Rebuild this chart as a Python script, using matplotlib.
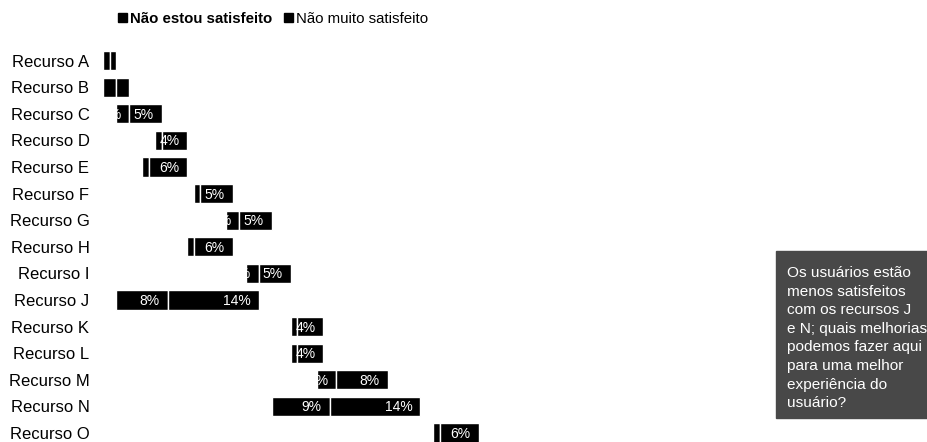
"""Recreate the 'satisfacao por recurso' offset stacked bar chart."""

import matplotlib

matplotlib.use("Agg")
import matplotlib.pyplot as plt
import numpy as np
from matplotlib.patches import Patch, Rectangle
from matplotlib.transforms import offset_copy

plt.rcParams["font.family"] = ["Liberation Sans", "DejaVu Sans"]

recursos = [f"Recurso {c}" for c in "ABCDEFGHIJKLMNO"]
# hidden leading share (%) that pushes each bar to the right
base_oculta = [0, 0, 2, 8, 6, 14, 19, 13, 22, 2, 29, 29, 33, 26, 51]
nao_estou = [1, 2, 2, 1, 1, 1, 2, 1, 2, 8, 1, 1, 3, 9, 1]
nao_muito = [1, 2, 5, 4, 6, 5, 5, 6, 5, 14, 4, 4, 8, 14, 6]
mostrar_rotulo = [False, False] + [True] * 13
series_nomes = ["Não estou satisfeito", "Não muito satisfeito"]

nota = ("Os usuários estão\nmenos satisfeitos\ncom os recursos J\n"
        "e N; quais melhorias\npodemos fazer aqui\npara uma melhor\n"
        "experiência do\nusuário?")

W, H = 927, 442
fig = plt.figure(figsize=(W / 100, H / 100), dpi=100)
ax = fig.add_axes([103.3 / W, -4.3 / H, 647 / W, 399 / H])

y = np.arange(len(recursos))
left = np.array(base_oculta, dtype=float)
for valores in (nao_estou, nao_muito):
    valores = np.array(valores, dtype=float)
    bars = ax.barh(y, valores, left=left, height=0.72, color="black",
                   edgecolor="white", linewidth=1)
    for bar, v, show in zip(bars, valores, mostrar_rotulo):
        if not show:
            continue
        x_end = bar.get_x() + bar.get_width()
        tr = offset_copy(ax.transData, fig=fig, x=-8, y=-1, units="dots")
        t = ax.text(x_end, bar.get_y() + bar.get_height() / 2, f"{v:.0f}%",
                    transform=tr, ha="right", va="center", color="white",
                    fontsize=10)
        t.set_clip_path(bar)
    left = left + valores

ax.set_xlim(0, 100)
ax.set_ylim(len(recursos) - 0.5, -0.5)
ax.set_yticks(y)
ax.set_yticklabels(recursos, fontsize=12)
ax.tick_params(axis="y", length=0, pad=10)
ax.set_xticks([])
for s in ax.spines.values():
    s.set_visible(False)

handles = [Patch(color="black") for _ in series_nomes]
leg = fig.legend(handles, series_nomes, loc="upper left",
                 bbox_to_anchor=(112 / W, 1 - 6 / H), ncol=2, frameon=False,
                 fontsize=10.8, handlelength=0.6, handleheight=0.6,
                 handletextpad=0.2, columnspacing=0.8, borderaxespad=0)
leg.get_texts()[0].set_fontweight("bold")

fig.patches.append(Rectangle((776 / W, 1 - 418 / H), 0.3, 167 / H,
                             transform=fig.transFigure, color="#484848"))
fig.text(787 / W, 1 - 266 / H, nota, color="white", fontsize=11.1,
         va="top", ha="left", linespacing=1.42)

fig.savefig("out.png", dpi=100)
